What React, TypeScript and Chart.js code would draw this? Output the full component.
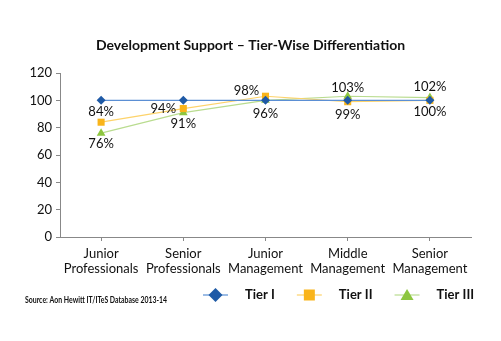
import React, { useEffect, useRef } from "react";
import { Chart, registerables } from "chart.js";

Chart.register(...registerables);

const chartTitle = "Development Support – Tier-Wise Differentiation";
const sourceNote = "Source: Aon Hewitt IT/ITeS Database 2013-14";
const categories = [
  ["Junior", "Professionals"],
  ["Senior", "Professionals"],
  ["Junior", "Management"],
  ["Middle", "Management"],
  ["Senior", "Management"],
];
const seriesNames = ["Tier I", "Tier II", "Tier III"];
const tier1 = [100, 100, 100, 100, 100];
const tier2 = [84, 94, 103, 99, 100];
const tier3 = [76, 91, 100, 103, 102];
const tier2Labels = ["84%", "94%", "98%", "99%", "100%"];
const tier3Labels = ["76%", "91%", "96%", "103%", "102%"];
const yMin = 0;
const yMax = 120;
const yStep = 20;

const FONT = "Lato, 'Open Sans', sans-serif";

// label placement offsets (style only)
const tier2Offsets = [[0, -10], [-20, 0], [-19, -5], [0, 13], [0, 11]];
const tier3Offsets = [[0, 11], [0, 11], [0, 13], [0, -8], [0, -11]];

const overlayPlugin = {
  id: "overlay",
  afterDraw(chart: any) {
    const ctx = chart.ctx;
    ctx.save();
    // data labels
    ctx.font = `13px ${FONT}`;
    ctx.fillStyle = "#111";
    ctx.textAlign = "center";
    ctx.textBaseline = "middle";
    chart.data.datasets.forEach((ds: any, di: number) => {
      if (!ds.valueLabels) return;
      const meta = chart.getDatasetMeta(di);
      meta.data.forEach((pt: any, i: number) => {
        const off = ds.labelOffsets[i];
        ctx.fillText(ds.valueLabels[i], pt.x + off[0], pt.y + off[1]);
      });
    });
    // legend
    const ly = 295;
    let x = 203;
    chart.data.datasets.forEach((ds: any) => {
      ctx.strokeStyle = ds.borderColor;
      ctx.lineWidth = 1.2;
      ctx.beginPath();
      ctx.moveTo(x, ly);
      ctx.lineTo(x + 25, ly);
      ctx.stroke();
      const cx = x + 12.5;
      ctx.fillStyle = ds.pointBackgroundColor;
      ctx.beginPath();
      if (ds.pointStyle === "rectRot") {
        ctx.moveTo(cx, ly - 7);
        ctx.lineTo(cx + 7, ly);
        ctx.lineTo(cx, ly + 7);
        ctx.lineTo(cx - 7, ly);
        ctx.closePath();
      } else if (ds.pointStyle === "rect") {
        ctx.rect(cx - 5.5, ly - 5.5, 11, 11);
      } else {
        ctx.moveTo(cx, ly - 6);
        ctx.lineTo(cx + 6.5, ly + 5);
        ctx.lineTo(cx - 6.5, ly + 5);
        ctx.closePath();
      }
      ctx.fill();
      ctx.fillStyle = "#111";
      ctx.font = `bold 13px ${FONT}`;
      ctx.textAlign = "left";
      ctx.textBaseline = "middle";
      const tx = x + 42;
      ctx.fillText(ds.label, tx, ly);
      x = tx + ctx.measureText(ds.label).width + 22;
    });
    // source note
    ctx.font = `bold 9px ${FONT}`;
    ctx.textAlign = "left";
    ctx.textBaseline = "middle";
    ctx.fillText(sourceNote, 25, 300, 142);
    ctx.restore();
  },
};

export default function App() {
  const ref = useRef<HTMLCanvasElement | null>(null);
  useEffect(() => {
    if (!ref.current) return;
    const chart = new Chart(ref.current, {
      type: "line",
      data: {
        labels: categories,
        datasets: [
          {
            label: seriesNames[0],
            data: tier1,
            borderColor: "#5b8fd4",
            borderWidth: 1.2,
            pointStyle: "rectRot",
            pointRadius: 4.5,
            pointBackgroundColor: "#1f5aa6",
            pointBorderColor: "#1f5aa6",
            pointBorderWidth: 0,
          } as any,
          {
            label: seriesNames[1],
            data: tier2,
            borderColor: "#fdd36b",
            borderWidth: 1.2,
            pointStyle: "rect",
            pointRadius: 5,
            pointBackgroundColor: "#f9b41a",
            pointBorderColor: "#f9b41a",
            pointBorderWidth: 0,
            valueLabels: tier2Labels,
            labelOffsets: tier2Offsets,
          } as any,
          {
            label: seriesNames[2],
            data: tier3,
            borderColor: "#b9dc8f",
            borderWidth: 1.2,
            pointStyle: "triangle",
            pointRadius: 5,
            pointBackgroundColor: "#8dc63f",
            pointBorderColor: "#8dc63f",
            pointBorderWidth: 0,
            valueLabels: tier3Labels,
            labelOffsets: tier3Offsets,
          } as any,
        ],
      },
      options: {
        animation: false,
        responsive: false,
        devicePixelRatio: 1,
        layout: { padding: { left: 0, right: 0, top: 0, bottom: 64 } },
        plugins: {
          legend: { display: false },
          tooltip: { enabled: false },
          title: {
            display: true,
            text: chartTitle,
            color: "#111",
            font: { family: FONT, size: 14, weight: "bold" },
            padding: { top: 36.6, bottom: 19.6 },
          },
        },
        scales: {
          x: {
            offset: true,
            grid: { offset: false, drawOnChartArea: false, drawTicks: true, tickLength: 4, color: "#888" },
            border: { display: true, color: "#888", width: 1 },
            ticks: {
              color: "#111",
              font: { family: FONT, size: 13, lineHeight: 1.15 },
              padding: 5,
              maxRotation: 0,
              autoSkip: false,
            },
            afterFit: (s: any) => { s.height = 40; },
          },
          y: {
            min: yMin,
            max: yMax,
            grid: { drawOnChartArea: false, drawTicks: true, tickLength: 4, color: "#888" },
            border: { display: true, color: "#888", width: 1 },
            ticks: {
              stepSize: yStep,
              color: "#111",
              font: { family: FONT, size: 13 },
              padding: 4,
            },
            afterFit: (s: any) => { s.width = 60; },
          },
          yRightSpace: {
            position: "right",
            display: true,
            min: yMin,
            max: yMax,
            grid: { display: false, drawTicks: false },
            border: { display: false },
            ticks: { display: false },
            afterFit: (s: any) => { s.width = 30; },
          },
        },
      },
      plugins: [overlayPlugin],
    });
    return () => chart.destroy();
  }, []);
  return (
    <div style={{ position: "fixed", left: 0, top: 0, width: 501, height: 341, background: "#fff" }}>
      <canvas ref={ref} width={501} height={341} style={{ width: 501, height: 341, display: "block" }} />
    </div>
  );
}
